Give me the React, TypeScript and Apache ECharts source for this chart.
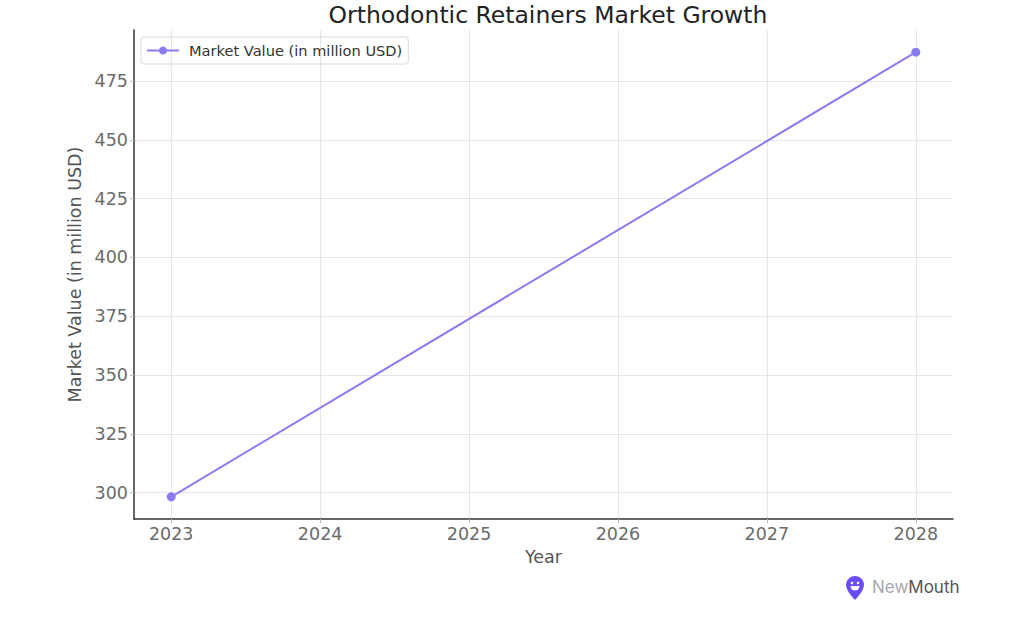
import React, { useEffect, useRef } from "react";
import * as echarts from "echarts";

const years = [2023, 2028];
const marketValues = [298.2, 487.3];
const seriesName = "Market Value (in million USD)";
const xTicks = [2023, 2024, 2025, 2026, 2027, 2028];
const yTicks = [300, 325, 350, 375, 400, 425, 450, 475];

const pinPath = "M9 0C4 0 0 4 0 9c0 6 9 15 9 15s9-9 9-15C18 4 14 0 9 0z";
echarts.graphic.registerShape("nmpin", (echarts.graphic as any).extendPath(pinPath, {}));

export default function App() {
  const ref = useRef<HTMLDivElement>(null);
  useEffect(() => {
    if (!ref.current) return;
    const chart = echarts.init(ref.current, null, { renderer: "svg" });
    const font = "DejaVu Sans";
    chart.setOption({
      animation: false,
      backgroundColor: "#ffffff",
      textStyle: { fontFamily: font },
      title: {
        text: "Orthodontic Retainers Market Growth",
        left: 543,
        textAlign: "center",
        top: -2,
        textStyle: { fontSize: 23.5, fontWeight: "normal", color: "#222", fontFamily: font },
      },
      legend: {
        left: 141,
        top: 37,
        padding: [6, 6, 6, 5],
        borderColor: "#d9d9d9",
        borderWidth: 1,
        borderRadius: 3,
        itemWidth: 32,
        itemHeight: 10,
        itemGap: 6,
        textStyle: { fontSize: 14.6, color: "#333", fontFamily: font, padding: [0, 0, 0, 5] },
        data: [{ name: seriesName }],
      },
      grid: { left: 134, right: 71, top: 30, bottom: 121, containLabel: false },
      xAxis: {
        type: "value",
        min: 2022.75,
        max: 2028.25,
        name: "Year",
        nameLocation: "middle",
        nameGap: 29,
        nameTextStyle: { fontSize: 17.5, color: "#555", fontFamily: font },
        axisLine: { show: true, lineStyle: { color: "#333", width: 1.5 } },
        axisTick: { show: true, length: 4, lineStyle: { color: "#bbb" }, customValues: xTicks },
        axisLabel: {
          fontSize: 17.5,
          color: "#6b6b6b",
          margin: 6,
          fontFamily: font,
          customValues: xTicks,
          formatter: (v: number) => String(Math.round(v)),
        },
        splitLine: { show: true, lineStyle: { color: "#e6e6e6", width: 1 } },
      },
      yAxis: {
        type: "value",
        min: 288.75,
        max: 496.75,
        name: "Market Value (in million USD)",
        nameLocation: "middle",
        nameGap: 42,
        nameRotate: 90,
        nameTextStyle: { fontSize: 17.5, color: "#555", fontFamily: font },
        axisLine: { show: true, lineStyle: { color: "#333", width: 1.5 } },
        axisTick: { show: true, length: 4, lineStyle: { color: "#bbb" }, customValues: yTicks },
        axisLabel: {
          fontSize: 17.5,
          color: "#6b6b6b",
          margin: 6,
          fontFamily: font,
          customValues: yTicks,
        },
        splitLine: { show: true, lineStyle: { color: "#e6e6e6", width: 1 } },
      },
      series: [
        {
          name: seriesName,
          type: "line",
          data: years.map((y, i) => [y, marketValues[i]]),
          symbol: "circle",
          symbolSize: 9,
          itemStyle: { color: "#8a7cf0" },
          lineStyle: { color: "#8a7cf0", width: 2 },
        },
      ],
      graphic: [
        {
          type: "group",
          left: 846,
          top: 576,
          children: [
            { type: "nmpin", x: 0, y: 0, scaleX: 1, scaleY: 1, style: { fill: "#6a4cf5" } } as any,
            { type: "circle", shape: { cx: 6, cy: 7, r: 1.3 }, style: { fill: "#fff" } },
            { type: "circle", shape: { cx: 12, cy: 7, r: 1.3 }, style: { fill: "#fff" } },
            { type: "sector", shape: { cx: 9, cy: 10, r: 4.5, startAngle: 0, endAngle: Math.PI }, style: { fill: "#fff" } },
          ],
        },
        {
          type: "text",
          left: 872,
          top: 578,
          style: {
            rich: {
              a: { fill: "#a8a8b0", fontSize: 17, fontFamily: "Inter" },
              b: { fill: "#555", fontSize: 17, fontFamily: "Inter" },
            },
            text: "{a|New}{b|Mouth}",
          } as any,
        },
      ],
    });
    return () => chart.dispose();
  }, []);
  return <div ref={ref} style={{ position: "fixed", left: 0, top: 0, width: 1024, height: 640 }} />;
}
